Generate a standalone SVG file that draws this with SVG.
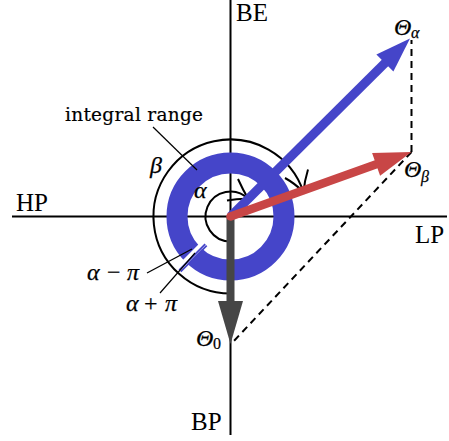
<svg xmlns="http://www.w3.org/2000/svg" width="449" height="441" viewBox="0 0 449 441">
<style>
.ax{stroke:#000;stroke-width:2;fill:none}
.arc{stroke:#000;stroke-width:2;fill:none}
.lead{stroke:#000;stroke-width:1.2;fill:none}
.dash{stroke:#000;stroke-width:2;stroke-dasharray:7 5;fill:none}
.lbl{font-family:"Liberation Serif","DejaVu Serif",serif;font-size:25px;fill:#000}
.txt{font-family:"DejaVu Serif","Liberation Serif",serif;font-size:18.5px;fill:#000;stroke:#000;stroke-width:0.2}
.m{font-family:"Liberation Serif","DejaVu Serif",serif;font-style:italic;font-size:24px;fill:#000;stroke:#000;stroke-width:0.25}
.mu{font-family:"Liberation Serif","DejaVu Serif",serif;font-size:24px;fill:#000;stroke:#000;stroke-width:0.2}
.sub{font-size:16px}
</style>
<rect width="449" height="441" fill="#fff"/>
<g id="axes">
<line class="ax" x1="12" y1="216.5" x2="447" y2="216.5"/>
<line class="ax" x1="230.5" y1="0" x2="230.5" y2="435"/>
</g>
<g id="ring">
<circle cx="230.5" cy="216.5" r="53.5" fill="none" stroke="#4545c9" stroke-width="21"/>
<line x1="203" y1="244" x2="182" y2="265" stroke="#fff" stroke-width="6"/>
<line x1="206.5" y1="245.5" x2="180.5" y2="271.5" stroke="#4545c9" stroke-width="1.8" transform="translate(-1.3,-1.3)"/>
<line x1="203.5" y1="242.5" x2="177.5" y2="268.5" stroke="#4545c9" stroke-width="1.8" transform="translate(3.2,3.2)"/>
</g>
<g id="connectors">
<path class="arc" d="M230.5 293.5 A77 77 0 1 1 303.5 192.1"/>
<path class="arc" d="M308 169.5 Q304.5 181 303.5 192.1 Q295 183.5 285 178"/>
<path class="arc" d="M230.5 241.5 A25 25 0 1 1 248.2 198.8"/>
<path class="arc" d="M238 179 Q243 190 248.2 198.8 Q238 198.5 227 200.5"/>
<line class="lead" x1="153" y1="127" x2="197" y2="170"/>
<line class="lead" x1="147" y1="273" x2="192" y2="249"/>
<line class="lead" x1="160" y1="293" x2="195" y2="253"/>
<line class="dash" x1="411.5" y1="152" x2="411.5" y2="40"/>
<line class="dash" x1="411.5" y1="152" x2="232" y2="343"/>
</g>
<g id="vec0">
<line x1="230.5" y1="216.5" x2="230.5" y2="303" stroke="#464646" stroke-width="8"/>
<polygon points="230.5,344 218,301 243,301" fill="#464646"/>
</g>
<g id="vecAlpha">
<line x1="230.5" y1="216.5" x2="386" y2="62" stroke="#4545c9" stroke-width="9"/>
<polygon points="410,38.5 393.4,71.5 376.4,54.5" fill="#4545c9"/>
</g>
<g id="vecBeta">
<line x1="230.5" y1="216.5" x2="377" y2="164" stroke="#c84646" stroke-width="8.5" stroke-linecap="round"/>
<polygon points="411.5,152 380.1,175.7 372.1,153.1" fill="#c84646"/>
</g>
<g id="labels">
<text class="lbl" x="236" y="21">BE</text>
<text class="lbl" x="16" y="211">HP</text>
<text class="lbl" x="415" y="243">LP</text>
<text class="lbl" x="191" y="430">BP</text>
<text class="txt" x="65" y="121" textLength="138">integral range</text>
<text class="m" x="194" y="198">α</text>
<text class="m" x="150" y="173">β</text>
<text class="m" x="87" y="280">α</text><text class="mu" x="107" y="280" font-size="27">−</text><text class="m" x="127" y="280">π</text>
<text class="m" x="126" y="311">α</text><text class="mu" x="144" y="311" font-size="27">+</text><text class="m" x="165" y="311">π</text>
<text class="m" x="394" y="35">Θ<tspan class="sub" x="411" y="38">α</tspan></text>
<text class="m" x="404" y="177">Θ<tspan class="sub" x="421" y="182">β</tspan></text>
<text class="m" x="196" y="346">Θ</text><text class="mu sub" x="213" y="349">0</text>
</g>
</svg>
